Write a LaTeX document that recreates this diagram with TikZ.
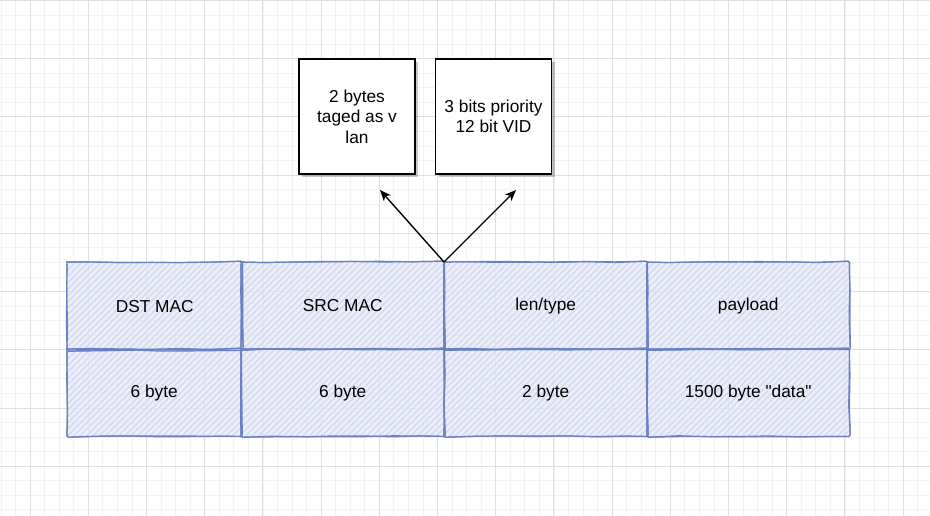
\documentclass[tikz,border=0pt]{standalone}
\usepackage{fontspec}
\setmainfont{Liberation Sans}[Ligatures=TeXOff]
\usetikzlibrary{arrows.meta,patterns.meta,decorations.pathmorphing,shadows}

\definecolor{gridminor}{HTML}{F2F2F2}
\definecolor{gridmajor}{HTML}{DFDFDF}
\definecolor{cellline}{HTML}{6A80C4}
\definecolor{cellfill}{HTML}{E6E9F6}
\definecolor{hatch}{HTML}{D3D9F1}

\tikzset{
  cell/.style={
    anchor=north west, minimum height=87pt, inner sep=0pt,
    preaction={fill=cellfill, fill opacity=0.7},
    pattern={Lines[angle=45, distance=4.5pt, line width=1.4pt]},
    pattern color=hatch, text=black,
    font=\fontsize{17.3}{20.5}\selectfont},
  sketchline/.style={draw=cellline, line width=1.2pt,
    decorate, decoration={random steps, segment length=30pt, amplitude=0.7pt},
    rounded corners=1.5pt},
  topbox/.style={draw=black, line width=1.5pt, fill=white,
    minimum width=116pt, minimum height=115pt, align=center, inner sep=0pt,
    font=\fontsize{17.3}{20.5}\selectfont,
    drop shadow={shadow xshift=3pt, shadow yshift=-3pt, fill=black, opacity=0.22}},
  fieldarrow/.style={draw=black, line width=1.4pt,
    -{Stealth[length=11pt, width=9pt, inset=3pt]}}
}

\begin{document}
\begin{tikzpicture}[x=1pt, y=-1pt]
  \useasboundingbox (0,0) rectangle (930,516);
  \fill[white] (0,0) rectangle (930,516);

  % background grid: fine lines, then heavier lines every fourth step
  \foreach \i in {0,...,64} {
    \draw[gridminor, line width=0.8pt] ({1+14.55*\i},0) -- ++(0,516);
  }
  \foreach \i in {0,...,36} {
    \draw[gridminor, line width=0.8pt] (0,{0.5+14.55*\i}) -- ++(930,0);
  }
  \foreach \i in {-1,...,16} {
    \draw[gridmajor, line width=0.8pt] ({30+58.2*\i},0) -- ++(0,516);
  }
  \foreach \i in {0,...,9} {
    \draw[gridmajor, line width=0.8pt] (0,{0.5+58.2*\i}) -- ++(930,0);
  }

  % frame fields
  \node[cell, minimum width=174pt] (dst)     at (67,262)  {DST MAC};
  \node[cell, minimum width=203pt] (src)     at (241,262) {SRC MAC};
  \node[cell, minimum width=203pt] (lentype) at (444,262) {len/type};
  \node[cell, minimum width=202pt] (payload) at (647,262) {payload};
  \node[cell, minimum width=174pt] (dstlen)  at (67,349)  {6 byte};
  \node[cell, minimum width=203pt] (srclen)  at (241,349) {6 byte};
  \node[cell, minimum width=203pt] (typelen) at (444,349) {2 byte};
  \node[cell, minimum width=202pt] (paylen)  at (647,349) {1500 byte "data"};

  % hand-drawn cell borders, each stroked twice
  \foreach \c in {dst,src,lentype,payload,dstlen,srclen,typelen,paylen} {
    \draw[sketchline] (\c.north west) rectangle (\c.south east);
    \draw[sketchline] (\c.north west) rectangle (\c.south east);
  }

  % VLAN tag fields
  \node[topbox] (tag) at (357,116.5) {2 bytes\\taged as v\\lan};
  \node[topbox] (vid) at (493.5,116.5) {3 bits priority\\12 bit VID};

  % arrows from the type field up towards the tag fields
  \coordinate (split)  at (lentype.north west);
  \coordinate (tagend) at (380,190);
  \coordinate (vidend) at (516,190);
  \draw[fieldarrow] (split) -- (tagend);
  \draw[fieldarrow] (split) -- (vidend);
\end{tikzpicture}
\end{document}
